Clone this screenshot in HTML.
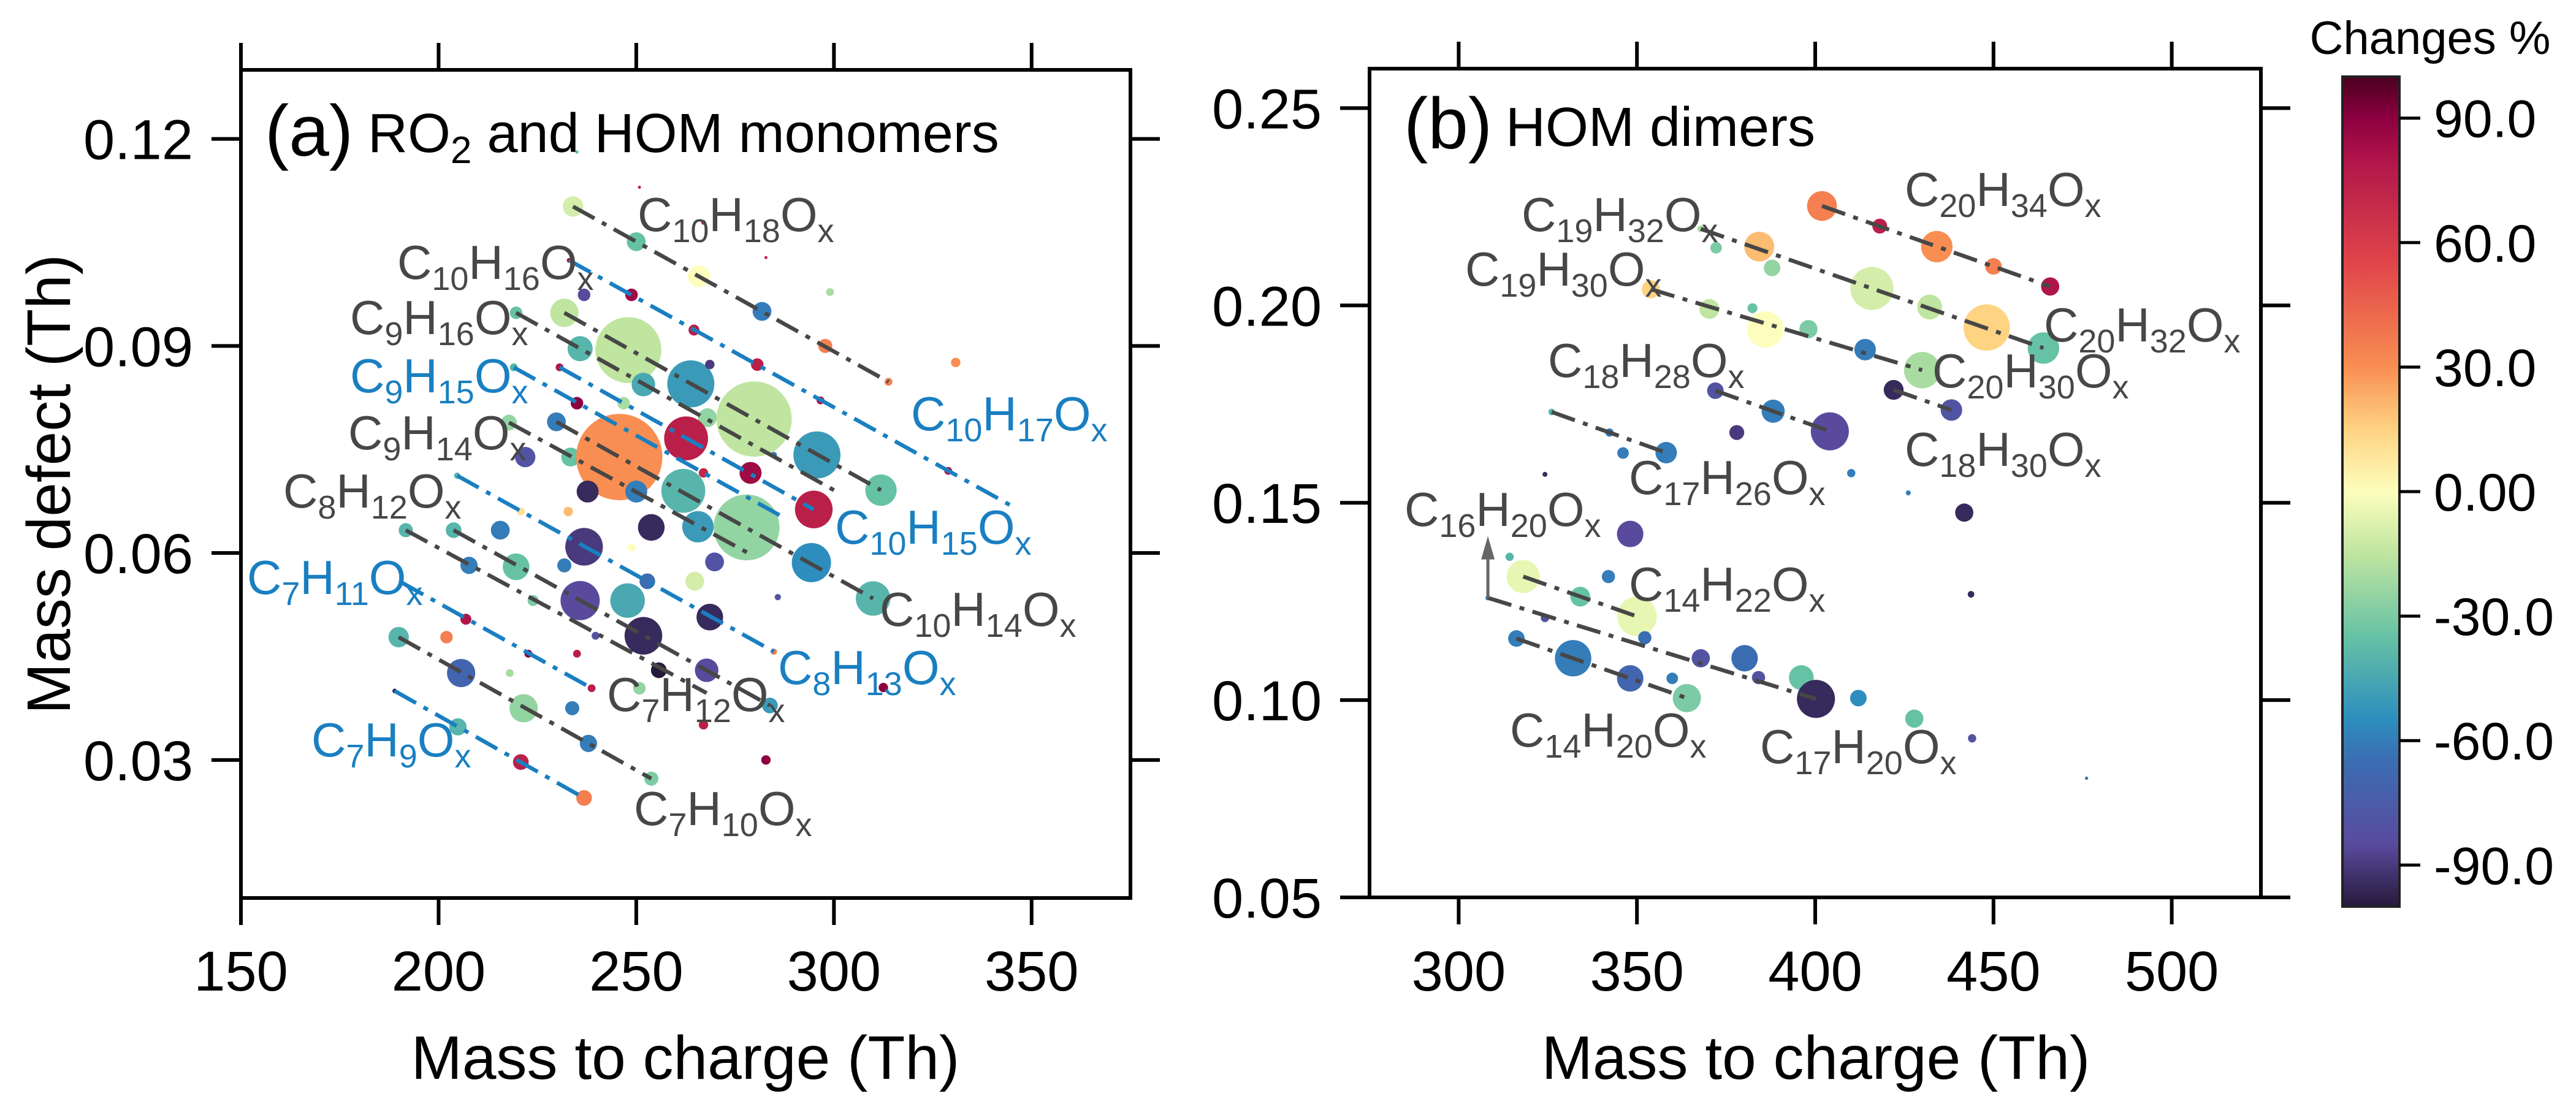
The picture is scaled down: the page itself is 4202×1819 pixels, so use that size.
<!DOCTYPE html>
<html><head><meta charset="utf-8"><style>
html,body{margin:0;padding:0;background:#fff;}
svg{display:block;font-family:"Liberation Sans",Arial,sans-serif;}
</style></head><body>
<svg id="fig" width="4202" height="1819" viewBox="0 0 4202 1819" xmlns="http://www.w3.org/2000/svg">
<defs>
<linearGradient id="cmap" x1="0" y1="1" x2="0" y2="0">
<stop offset="0" stop-color="#261a3b"/><stop offset="0.075" stop-color="#5a4a9e"/>
<stop offset="0.175" stop-color="#3b6db3"/><stop offset="0.225" stop-color="#2d8dbe"/>
<stop offset="0.325" stop-color="#66c2a5"/><stop offset="0.425" stop-color="#bfe5a0"/>
<stop offset="0.5" stop-color="#fdfebd"/><stop offset="0.575" stop-color="#fed382"/>
<stop offset="0.65" stop-color="#f98e52"/><stop offset="0.775" stop-color="#e0454a"/>
<stop offset="0.9" stop-color="#b0154a"/><stop offset="0.95" stop-color="#8c0040"/>
<stop offset="1" stop-color="#4a0020"/>
</linearGradient>
</defs>
<g id="pa"></g>
<g id="pb"></g>
<g id="cb"></g>
</svg>
<script>
// ---------- Panel (a) data ----------
const aMz = [234.0,250.0,265.8,281.8,297.8,313.8,299.0,330.8,250.8,282.8,267.0,233.0,248.8,236.8,264.6,280.6,296.6,328.9,219.6,231.8,235.8,248.0,251.8,263.8,268.6,268.0,279.8,295.7,311.9,219.0,230.6,235.0,246.8,262.6,267.0,278.9,294.9,284.8,217.8,221.9,229.8,233.4,245.7,237.7,250.0,261.9,265.6,277.9,294.3,309.9,253.8,269.8,264.8,248.8,232.8,220.8,204.7,215.6,203.8,191.7,207.7,219.6,231.8,236.8,235.8,247.8,252.8,251.8,268.6,285.8,267.8,255.7,284.8,312.5,283.8,250.8,267.0,282.8,235.0,239.7,223.9,206.9,202.0,189.9,190.7,205.7,218.0,222.7,221.5,233.8,238.7,237.9,253.8,204.9,220.8,236.8,188.9,235.0];
const aMd = [0.1102,0.1051,0.1001,0.0950,0.0900,0.0848,0.0978,0.0876,0.1130,0.1028,0.1079,0.1024,0.0974,0.0974,0.0923,0.0873,0.0821,0.0719,0.0948,0.0948,0.0896,0.0894,0.0844,0.0845,0.0873,0.0796,0.0794,0.0742,0.0691,0.0869,0.0869,0.0817,0.0817,0.0766,0.0716,0.0716,0.0663,0.0742,0.0789,0.0739,0.0790,0.0739,0.0739,0.0689,0.0689,0.0690,0.0638,0.0637,0.0586,0.0534,0.0637,0.0587,0.0559,0.0608,0.0660,0.0660,0.0712,0.0633,0.0633,0.0633,0.0582,0.0580,0.0582,0.0609,0.0531,0.0531,0.0559,0.0480,0.0507,0.0536,0.0430,0.0430,0.0457,0.0405,0.0379,0.0404,0.0351,0.0300,0.0454,0.0480,0.0531,0.0504,0.0478,0.0478,0.0557,0.0426,0.0426,0.0454,0.0375,0.0375,0.0404,0.0324,0.0273,0.0348,0.0297,0.0245,0.0400,0.1181];
const aSize = [13,12,14,12,9,5,5,6,2,2,3,3,8,8,7,8,5,5,8,18,16,42,15,30,6,12,48,30,20,5,5,8,8,28,6,14,24,4,10,13,12,12,55,14,14,28,20,42,25,22,17,12,12,5,6,5,4,12,10,9,11,17,9,24,25,22,10,24,17,4,15,10,4,6,10,8,6,6,5,5,7,7,8,13,3,18,5,5,18,9,5,11,9,11,10,10,3,2];
const aChg = [-10,-35,0,-60,35,35,-20,30,70,70,70,80,85,-85,75,75,80,80,-35,-15,-40,-15,-45,-50,-90,-25,-15,-50,-35,-40,80,90,-20,75,70,85,75,-60,-25,-80,-60,-35,30,-95,-60,-40,-50,-25,-55,-40,-95,-80,-10,0,20,10,-40,-60,-40,-40,-60,-35,-60,-90,-85,-45,-65,-95,-95,-80,-85,-100,35,90,-50,-25,75,90,75,-80,-30,80,35,-40,-40,-70,-20,90,-25,-60,75,-60,-30,-40,75,35,-95,-40];
const aLineGray = [[234.0,0.1102,313.8,0.0848],[231.8,0.0948,311.9,0.0691],[219.6,0.0948,300.0,0.0691],[229.8,0.0790,309.9,0.0534],[217.8,0.0789,278.9,0.0598],[203.8,0.0633,283.8,0.0379],[191.7,0.0633,267.8,0.0397],[189.9,0.0478,253.8,0.0273]];
const aLineBlue = [[233.0,0.1024,345.3,0.0667],[230.6,0.0869,294.9,0.0663],[219.0,0.0869,286.8,0.0653],[204.7,0.0712,284.8,0.0457],[190.7,0.0557,238.7,0.0404],[188.9,0.0400,236.8,0.0245]];
const aXTicks = [150,200,250,300,350];
const aYTicks = [0.03,0.06,0.09,0.12];
// ---------- Panel (b) data ----------
const bMz = [401.9,418.1,434.1,450.0,465.9,367.9,384.3,372.2,387.9,415.9,432.1,448.1,464.0,353.9,370.3,382.4,386.0,398.1,414.0,430.0,422.0,438.2,372.0,388.2,378.0,404.1,326.1,342.3,346.1,358.2,410.1,426.1,324.2,441.8,348.1,443.7,314.3,318.1,342.0,334.1,350.0,308.2,324.2,316.2,332.1,352.2,367.9,380.2,348.1,359.9,384.1,396.1,364.0,400.2,412.1,427.8,444.0,476.1];
const bMd = [0.2252,0.2201,0.2149,0.2099,0.2048,0.2194,0.2149,0.2146,0.2095,0.2043,0.1996,0.1944,0.1892,0.2041,0.1991,0.1993,0.1939,0.1940,0.1888,0.1836,0.1786,0.1735,0.1784,0.1732,0.1678,0.1681,0.1730,0.1678,0.1626,0.1627,0.1575,0.1525,0.1572,0.1475,0.1421,0.1268,0.1363,0.1313,0.1313,0.1262,0.1212,0.1259,0.1208,0.1156,0.1106,0.1158,0.1106,0.1106,0.1055,0.1055,0.1057,0.1057,0.1005,0.1003,0.1005,0.0953,0.0903,0.0802];
const bSize = [18,9,19,10,11,4,18,7,10,26,15,28,19,11,12,6,22,11,13,22,12,13,10,14,9,23,4,5,7,13,5,3,3,11,16,4,5,20,8,12,24,3,5,10,22,8,11,16,16,7,8,15,17,23,10,11,5,2];
const bChg = [35,75,30,35,80,-20,20,-30,-25,-10,-15,15,-35,15,-15,-35,0,-30,-60,-20,-95,-80,-80,-60,-90,-85,-40,-60,-60,-60,-60,-60,-95,-95,-85,-95,-40,-5,-60,-35,-5,-60,-80,-60,-60,-65,-80,-65,-70,-60,-80,-35,-30,-95,-55,-35,-80,-60];
const bLines = [[401.9,0.2252,465.9,0.2048],[367.9,0.2194,464.0,0.1892],[353.9,0.2041,430.0,0.1836],[422.0,0.1786,438.2,0.1735],[372.0,0.1784,404.1,0.1681],[326.1,0.1730,358.2,0.1627],[318.1,0.1313,350.0,0.1212],[308.2,0.1259,400.2,0.1003],[316.2,0.1156,364.0,0.1005]];
const bArrow = [308.2,0.1259,0.1403];
const bXTicks = [300,350,400,450,500];
const bYTicks = [0.05,0.10,0.15,0.20,0.25];
// ---------- Colorbar ----------
const cbTicks = [-90,-60,-30,0,30,60,90];
const cbLabels = ["-90.0","-60.0","-30.0","0.00","30.0","60.0","90.0"];

const NS="http://www.w3.org/2000/svg";
function mk(parent,tag,attrs,text){const e=document.createElementNS(NS,tag);for(const k in attrs)e.setAttribute(k,attrs[k]);if(text!==undefined)e.textContent=text;parent.appendChild(e);return e;}
const stops=[[-100,[38,26,59]],[-85,[90,74,158]],[-65,[59,109,179]],[-55,[45,141,190]],[-35,[102,194,165]],[-15,[191,229,160]],[0,[253,254,189]],[15,[254,211,130]],[30,[249,142,82]],[55,[224,69,74]],[80,[176,21,74]],[90,[140,0,64]],[100,[74,0,32]]];
function cmap(v){v=Math.max(-100,Math.min(100,v));for(let i=0;i<stops.length-1;i++){const a=stops[i],b=stops[i+1];if(v<=b[0]){const t=(v-a[0])/(b[0]-a[0]);const c=a[1].map((x,j)=>Math.round(x+(b[1][j]-x)*t));return `rgb(${c[0]},${c[1]},${c[2]})`;}}return "rgb(74,0,32)";}
const GRAY="#474747", BLUE="#1a7fc1";

function panel(g,ax,mz,md,sz,chg,sScale){
  const sx=v=>ax.L+(v-ax.x0)*(ax.R-ax.L)/(ax.x1-ax.x0);
  const sy=v=>ax.T+(ax.y1-v)*(ax.B-ax.T)/(ax.y1-ax.y0);
  for(let i=0;i<mz.length;i++){
    const c=mk(g,'circle',{cx:sx(mz[i]),cy:sy(md[i]),r:sz[i]*sScale,fill:cmap(chg[i])});
    
    
  }
  return {sx,sy};
}
function dline(g,s,seg,color,name){
  const l=mk(g,'line',{x1:s.sx(seg[0]),y1:s.sy(seg[1]),x2:s.sx(seg[2]),y2:s.sy(seg[3]),stroke:color,'stroke-width':6.5,'stroke-dasharray':'40 14 8 14'});
  
  
}
function frame(g,ax,s,xt,yt){
  const f=mk(g,'rect',{x:ax.L,y:ax.T,width:ax.R-ax.L,height:ax.B-ax.T,fill:'none',stroke:'#000','stroke-width':6});
  
  xt.forEach(v=>{const x=s.sx(v);
    mk(g,'line',{x1:x,y1:ax.B,x2:x,y2:ax.B+44,stroke:'#000','stroke-width':6});
    mk(g,'line',{x1:x,y1:ax.T,x2:x,y2:ax.T-44,stroke:'#000','stroke-width':6});
    const t=mk(g,'text',{x:x,y:1616,'font-size':92,'text-anchor':'middle',fill:'#000'},String(v));
    });
  yt.forEach(v=>{const y=s.sy(v);
    mk(g,'line',{x1:ax.L,y1:y,x2:ax.L-48,y2:y,stroke:'#000','stroke-width':6});
    mk(g,'line',{x1:ax.R,y1:y,x2:ax.R+48,y2:y,stroke:'#000','stroke-width':6});
    const t=mk(g,'text',{x:ax.L-78,y:y+33,'font-size':92,'text-anchor':'end',fill:'#000'},v.toFixed(2));
    });
}
function formula(g,x,y,parts,color){
  const t=mk(g,'text',{x:x,y:y,'font-size':78,fill:color});
  
  const seq=[['C',0],[parts[0],1],['H',0],[parts[1],1],['O',0],['x',1]];
  let prevSub=false;
  seq.forEach(([s,sub])=>{
    const a={dy:sub&&!prevSub?18:(!sub&&prevSub?-18:0)};
    if(sub)a['font-size']=54;
    const sp=mk(t,'tspan',a);sp.textContent=s;prevSub=!!sub;});
}

// Panel a
const ga=document.getElementById('pa');
const axA={L:393,R:1844,T:114,B:1465,x0:150,x1:375,y0:0.01,y1:0.13};
const sA=panel(ga,axA,aMz,aMd,aSize,aChg,1.28);
aLineGray.forEach(sg=>dline(ga,sA,sg,GRAY,'family-line'));
aLineBlue.forEach(sg=>dline(ga,sA,sg,BLUE,'family-line'));
frame(ga,axA,sA,aXTicks,aYTicks);
[[1040,377,'10','18',GRAY],[648,455,'10','16',GRAY],[571,545,'9','16',GRAY],[571,640,'9','15',BLUE],[568,733,'9','14',GRAY],[462,828,'8','12',GRAY],[403,969,'7','11',BLUE],[508,1234,'7','9',BLUE],[1486,702,'10','17',BLUE],[1362,887,'10','15',BLUE],[1435,1021,'10','14',GRAY],[1269,1116,'8','13',BLUE],[990,1160,'7','12',GRAY],[1034,1346,'7','10',GRAY]].forEach(l=>formula(ga,l[0],l[1],[l[2],l[3]],l[4]));
let t=mk(ga,'text',{x:432,y:254,'font-size':118,fill:'#000'},'(a)');
t=mk(ga,'text',{x:600,y:248,'font-size':90,fill:'#000'});
mk(t,'tspan',{},'RO');mk(t,'tspan',{'font-size':62,dy:18},'2');mk(t,'tspan',{dy:-18},' and HOM monomers');
t=mk(ga,'text',{x:1118,y:1760,'font-size':100,'text-anchor':'middle',fill:'#000'},'Mass to charge (Th)');
t=mk(ga,'text',{x:0,y:0,'font-size':100,'text-anchor':'middle',fill:'#000',transform:'translate(114,790) rotate(-90)'},'Mass defect (Th)');

// Panel b
const gb=document.getElementById('pb');
const axB={L:2234,R:3688,T:112,B:1464,x0:275,x1:525,y0:0.05,y1:0.26};
const sB=panel(gb,axB,bMz,bMd,bSize,bChg,1.35);
bLines.forEach(sg=>dline(gb,sB,sg,GRAY,'family-line'));
const ax0=sB.sx(bArrow[0]),ay0=sB.sy(bArrow[1]),ay1=sB.sy(bArrow[2]);
let ar=mk(gb,'line',{x1:ax0,y1:ay0,x2:ax0,y2:ay1+28,stroke:'#666','stroke-width':5});
mk(gb,'polygon',{points:`${ax0-11},${ay1+30} ${ax0+11},${ay1+30} ${ax0},${ay1-8}`,fill:'#666'});
frame(gb,axB,sB,bXTicks,bYTicks);
[[3107,336,'20','34'],[2482,377,'19','32'],[2390,466,'19','30'],[3334,557,'20','32'],[3152,632,'20','30'],[2525,615,'18','28'],[3107,760,'18','30'],[2657,806,'17','26'],[2291,858,'16','20'],[2657,980,'14','22'],[2463,1218,'14','20'],[2871,1245,'17','20']].forEach(l=>formula(gb,l[0],l[1],[l[2],l[3]],GRAY));
t=mk(gb,'text',{x:2290,y:242,'font-size':118,fill:'#000'},'(b)');
t=mk(gb,'text',{x:2456,y:238,'font-size':90,fill:'#000'},'HOM dimers');
t=mk(gb,'text',{x:2962,y:1760,'font-size':100,'text-anchor':'middle',fill:'#000'},'Mass to charge (Th)');

// Colorbar
const gc=document.getElementById('cb');
const CB={L:3821,R:3914,T:125,B:1479};
const cy=v=>CB.T+(100-v)*(CB.B-CB.T)/200;
let r=mk(gc,'rect',{x:CB.L,y:CB.T,width:CB.R-CB.L,height:CB.B-CB.T,fill:'url(#cmap)',stroke:'#222','stroke-width':4});
cbTicks.forEach((v,i)=>{const y=cy(v);
  mk(gc,'line',{x1:CB.R,y1:y,x2:CB.R+34,y2:y,stroke:'#000','stroke-width':5});
  const tt=mk(gc,'text',{x:3970,y:y+31,'font-size':86,fill:'#000'},cbLabels[i]);
  });
t=mk(gc,'text',{x:3964,y:88,'font-size':76,'text-anchor':'middle',fill:'#000'},'Changes %');
</script>
</body></html>
